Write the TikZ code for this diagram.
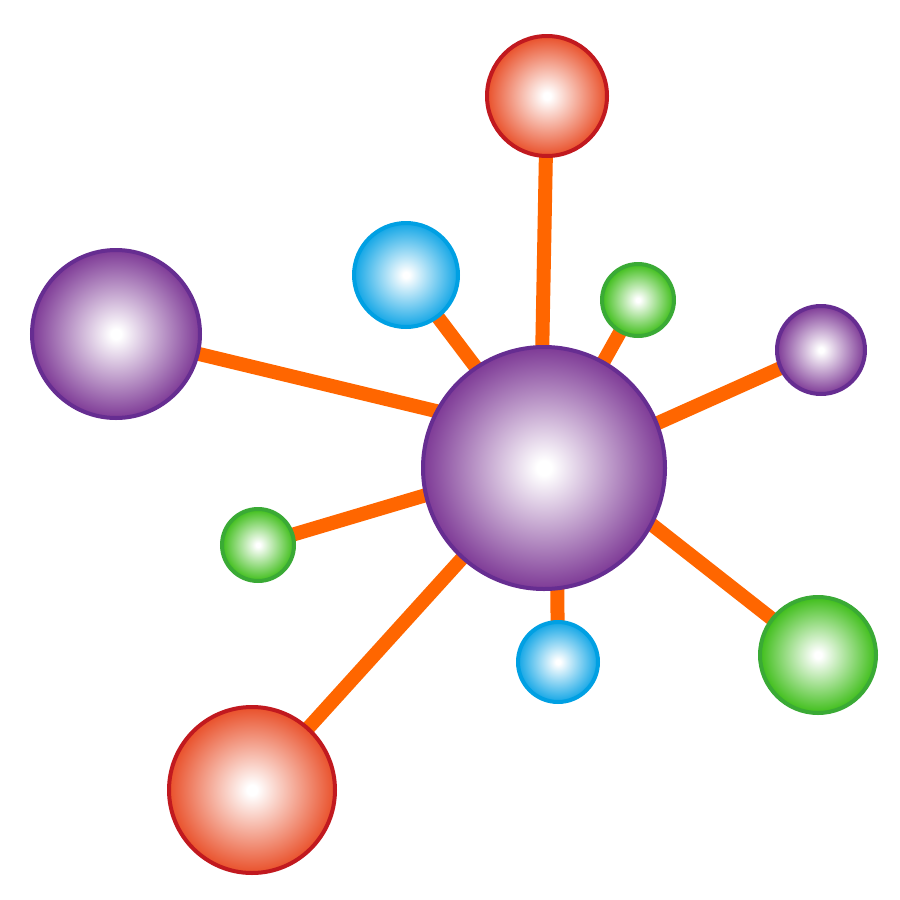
\documentclass[tikz,border=0pt]{standalone}
\usepackage{tikz}
\definecolor{purpEdge}{HTML}{662D91}
\definecolor{purpFill}{HTML}{7E3A96}
\definecolor{redEdge}{HTML}{C1191F}
\definecolor{redFill}{HTML}{E9502A}
\definecolor{blueEdge}{HTML}{00A0E3}
\definecolor{blueFill}{HTML}{12A6E6}
\definecolor{greenEdge}{HTML}{3AAA35}
\definecolor{greenFill}{HTML}{3FBE1A}
\definecolor{linkOrange}{HTML}{FF6600}
\pgfdeclareradialshading{ballpurple}{\pgfpoint{0bp}{0bp}}{color(0bp)=(white); color(1.5bp)=(white); color(25bp)=(purpFill); color(50bp)=(purpFill)}
\pgfdeclareradialshading{ballred}{\pgfpoint{0bp}{0bp}}{color(0bp)=(white); color(1.5bp)=(white); color(25bp)=(redFill); color(50bp)=(redFill)}
\pgfdeclareradialshading{ballblue}{\pgfpoint{0bp}{0bp}}{color(0bp)=(white); color(1.5bp)=(white); color(25bp)=(blueFill); color(50bp)=(blueFill)}
\pgfdeclareradialshading{ballgreen}{\pgfpoint{0bp}{0bp}}{color(0bp)=(white); color(1.5bp)=(white); color(25bp)=(greenFill); color(50bp)=(greenFill)}
\tikzset{
  ball/.style={circle, inner sep=0pt, outer sep=0pt, line width=2pt, minimum size=#1},
  purpleball/.style={ball=#1, draw=purpEdge, shading=ballpurple},
  redball/.style={ball=#1, draw=redEdge, shading=ballred},
  blueball/.style={ball=#1, draw=blueEdge, shading=ballblue},
  greenball/.style={ball=#1, draw=greenEdge, shading=ballgreen},
  link/.style={draw=linkOrange, line width=7pt}
}
\begin{document}
\begin{tikzpicture}[x=0.5pt, y=-0.5pt]
\useasboundingbox (0,0) rectangle (900,900);
% centres
\coordinate (cC) at (544,468);
\coordinate (cTop) at (547,96);
\coordinate (cBlueT) at (406,275);
\coordinate (cGreenT) at (638,300);
\coordinate (cPurpR) at (821,350);
\coordinate (cPurpL) at (116,334);
\coordinate (cGreenL) at (258,545);
\coordinate (cBlueB) at (558,662);
\coordinate (cGreenR) at (818,655);
\coordinate (cRedB) at (252,790);
% inner ends of the links (inside the central ball)
\coordinate (eTop) at (540,468);
\coordinate (eBlueT) at (552,468);
\coordinate (eGreenT) at (544,468);
\coordinate (ePurpR) at (544,474);
\coordinate (ePurpL) at (544,437);
\coordinate (eGreenL) at (544,460);
\coordinate (eBlueB) at (556,468);
\coordinate (eGreenR) at (544,440);
\coordinate (eRedB) at (544,468);
% links
\draw[link] (cTop) -- (eTop);
\draw[link] (cBlueT) -- (eBlueT);
\draw[link] (cGreenT) -- (eGreenT);
\draw[link] (cPurpR) -- (ePurpR);
\draw[link] (cPurpL) -- (ePurpL);
\draw[link] (cGreenL) -- (eGreenL);
\draw[link] (cBlueB) -- (eBlueB);
\draw[link] (cGreenR) -- (eGreenR);
\draw[link] (cRedB) -- (eRedB);
% balls (minimum size in pt = diameter in px * 0.5)
\node[purpleball=121pt] (center) at (cC) {};
\node[redball=60pt] (top) at (cTop) {};
\node[blueball=52pt] (blueT) at (cBlueT) {};
\node[greenball=36pt] (greenT) at (cGreenT) {};
\node[purpleball=44pt] (purpR) at (cPurpR) {};
\node[purpleball=84pt] (purpL) at (cPurpL) {};
\node[greenball=36pt] (greenL) at (cGreenL) {};
\node[blueball=40pt] (blueB) at (cBlueB) {};
\node[greenball=58pt] (greenR) at (cGreenR) {};
\node[redball=83pt] (redB) at (cRedB) {};
\end{tikzpicture}
\end{document}
